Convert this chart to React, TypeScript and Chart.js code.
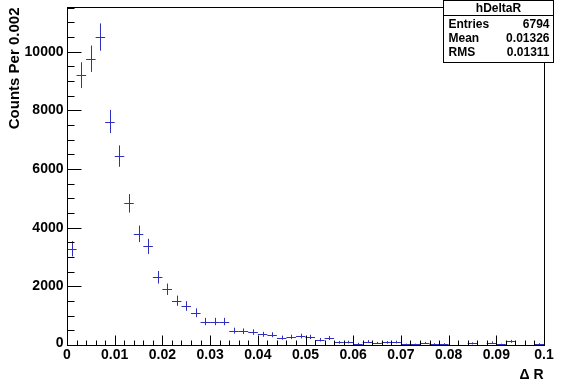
import React, { useEffect, useRef } from "react";
import { Chart, registerables } from "chart.js";

Chart.register(...registerables);

// Bin centres of the histogram (bin width 0.002)
const binCenters = [
  0.001, 0.003, 0.005, 0.007, 0.009, 0.011, 0.013, 0.015, 0.017, 0.019,
  0.021, 0.023, 0.025, 0.027, 0.029, 0.031, 0.033, 0.035, 0.037, 0.039,
  0.041, 0.043, 0.045, 0.047, 0.049, 0.051, 0.053, 0.055, 0.057, 0.059,
  0.061, 0.063, 0.065, 0.067, 0.069, 0.071, 0.073, 0.075, 0.077, 0.079,
  0.081, 0.083, 0.085, 0.087, 0.089, 0.091, 0.093, 0.095, 0.097, 0.099,
];
const counts = [
  3280, 9200, 9760, 10500, 7620, 6440, 4830, 3790, 3360, 2310,
  1900, 1510, 1330, 1100, 800, 800, 800, 490, 470, 440,
  365, 350, 250, 275, 305, 275, 180, 240, 90, 100,
  45, 115, 70, 90, 100, 25, 25, 70, 35, 35,
  0, 0, 55, 0, 80, 25, 125, 0, 0, 35,
];
const errors = [
  260, 440, 450, 465, 395, 365, 315, 280, 260, 215,
  195, 175, 165, 150, 125, 125, 125, 100, 95, 95,
  85, 85, 70, 75, 80, 75, 60, 70, 45, 45,
  30, 50, 35, 45, 45, 20, 20, 35, 25, 25,
  0, 0, 35, 0, 40, 20, 50, 0, 0, 25,
];
const binWidth = 0.002;

const xTickValues = [0, 0.01, 0.02, 0.03, 0.04, 0.05, 0.06, 0.07, 0.08, 0.09, 0.1];
const xTickLabels = ["0", "0.01", "0.02", "0.03", "0.04", "0.05", "0.06", "0.07", "0.08", "0.09", "0.1"];
const yTickValues = [0, 2000, 4000, 6000, 8000, 10000];
const yTickLabels = ["0", "2000", "4000", "6000", "8000", "10000"];
const xMinorStep = 0.002;
const yMinorStep = 500;

const xTitle = "\u0394 R";
const yTitle = "Counts Per 0.002";
const statsTitle = "hDeltaR";
const statsNames = ["Entries", "Mean", "RMS"];
const statsValues = ["6794", "0.01326", "0.01311"];

const FONT = "'Liberation Sans', Arial, Helvetica, sans-serif";
const POINT_COLOR = "#2f2fbf";

const rootPlugin = {
  id: "rootStyle",
  afterDatasetsDraw(chart: any) {
    const ctx = chart.ctx;
    const xs = chart.scales.x;
    const ys = chart.scales.y;
    ctx.save();
    ctx.strokeStyle = POINT_COLOR;
    ctx.lineWidth = 1;
    for (let i = 0; i < binCenters.length; i++) {
      const xc = xs.getPixelForValue(binCenters[i]);
      const xl = xs.getPixelForValue(binCenters[i] - binWidth / 2);
      const xr = xs.getPixelForValue(binCenters[i] + binWidth / 2);
      const yc = ys.getPixelForValue(counts[i]);
      const yt = ys.getPixelForValue(counts[i] + errors[i]);
      const yb = ys.getPixelForValue(Math.max(0, counts[i] - errors[i]));
      ctx.beginPath();
      ctx.moveTo(xl, Math.round(yc) + 0.5);
      ctx.lineTo(xr, Math.round(yc) + 0.5);
      if (errors[i] > 0) {
        ctx.moveTo(Math.round(xc) + 0.5, yt);
        ctx.lineTo(Math.round(xc) + 0.5, yb);
      }
      ctx.stroke();
    }
    ctx.restore();
  },
  afterDraw(chart: any) {
    const ctx = chart.ctx;
    const xs = chart.scales.x;
    const ys = chart.scales.y;
    const a = chart.chartArea;
    const L = Math.round(a.left) + 0.5;
    const R = Math.round(a.right) + 0.5;
    const T = Math.round(a.top) + 0.5;
    const B = Math.round(a.bottom) + 0.5;
    ctx.save();
    // frame
    ctx.strokeStyle = "#000";
    ctx.lineWidth = 1;
    ctx.strokeRect(L, T, R - L, B - T);

    // x ticks
    ctx.beginPath();
    for (let v = 0; v <= xs.max + 1e-9; v += xMinorStep) {
      const px = Math.round(xs.getPixelForValue(v)) + 0.5;
      const major = Math.abs(v / 0.01 - Math.round(v / 0.01)) < 1e-6;
      ctx.moveTo(px, B);
      ctx.lineTo(px, B - (major ? 10 : 5));
    }
    // y ticks
    for (let v = 0; v <= ys.max; v += yMinorStep) {
      const py = Math.round(ys.getPixelForValue(v)) + 0.5;
      const major = v % 2000 === 0;
      ctx.moveTo(L, py);
      ctx.lineTo(L + (major ? 14 : 7), py);
    }
    ctx.stroke();

    // tick labels
    ctx.fillStyle = "#000";
    ctx.font = `bold 14px ${FONT}`;
    ctx.textAlign = "center";
    ctx.textBaseline = "middle";
    xTickValues.forEach((v, i) => {
      ctx.fillText(xTickLabels[i], xs.getPixelForValue(v), B + 10);
    });
    ctx.textAlign = "right";
    yTickValues.forEach((v, i) => {
      ctx.fillText(yTickLabels[i], L - 4, ys.getPixelForValue(v) - (v === 0 ? 2 : 0));
    });

    // axis titles
    ctx.textAlign = "right";
    ctx.fillText(xTitle, R - 1, B + 30);
    ctx.save();
    ctx.translate(15, T);
    ctx.rotate(-Math.PI / 2);
    ctx.textAlign = "right";
    ctx.font = `bold 15px ${FONT}`;
    ctx.fillText(yTitle, 0, 0);
    ctx.restore();

    // stats box
    const bx = 443.5, by = 0.5, bw = 110, bh = 62;
    ctx.fillStyle = "#fff";
    ctx.fillRect(bx, by, bw, bh);
    ctx.strokeStyle = "#000";
    ctx.strokeRect(bx, by, bw, bh);
    ctx.beginPath();
    ctx.moveTo(bx, 15.5);
    ctx.lineTo(bx + bw, 15.5);
    ctx.stroke();
    ctx.fillStyle = "#000";
    ctx.font = `bold 12px ${FONT}`;
    ctx.textAlign = "center";
    ctx.fillText(statsTitle, bx + bw / 2, 8.5);
    ctx.font = `bold 12px ${FONT}`;
    statsNames.forEach((n, i) => {
      const yy = 25 + i * 14;
      ctx.textAlign = "left";
      ctx.fillText(n, bx + 5, yy);
      ctx.textAlign = "right";
      ctx.fillText(statsValues[i], bx + bw - 4, yy);
    });
    ctx.restore();
  },
};

export default function App() {
  const ref = useRef<HTMLCanvasElement | null>(null);
  useEffect(() => {
    document.body.style.margin = "0";
    const canvas = ref.current;
    if (!canvas) return;
    const chart = new Chart(canvas, {
      type: "scatter",
      data: {
        datasets: [
          {
            label: "hDeltaR",
            data: binCenters.map((x, i) => ({ x, y: counts[i] })),
            pointRadius: 0,
            showLine: false,
          },
        ],
      },
      options: {
        responsive: false,
        animation: false,
        devicePixelRatio: 1,
        layout: { padding: { left: 67, right: 23, top: 7, bottom: 39 } },
        plugins: { legend: { display: false }, tooltip: { enabled: false } },
        scales: {
          x: { type: "linear", min: 0, max: 0.1, display: false },
          y: { type: "linear", min: 0, max: 11524, display: false },
        },
      },
      plugins: [rootPlugin],
    });
    return () => chart.destroy();
  }, []);
  return (
    <canvas
      ref={ref}
      width={567}
      height={384}
      style={{ display: "block", width: 567, height: 384, background: "#fff" }}
    />
  );
}
